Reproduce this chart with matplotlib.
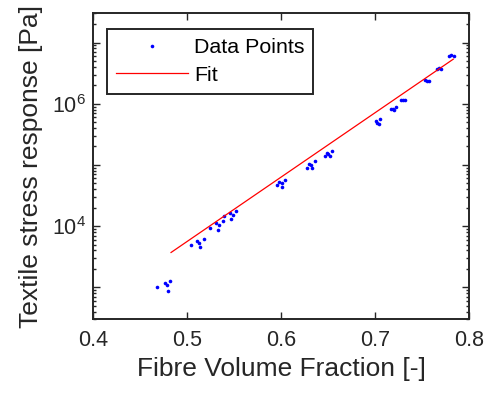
import numpy as np
import matplotlib
matplotlib.use('Agg')
import matplotlib.pyplot as plt
from matplotlib.ticker import FixedLocator, LogLocator, NullFormatter, FuncFormatter

plt.rcParams['font.family'] = ['Liberation Sans', 'DejaVu Sans']
plt.rcParams['mathtext.fontset'] = 'custom'
plt.rcParams['mathtext.rm'] = 'Liberation Sans'

# data
vf = [0.4674, 0.4763, 0.4781, 0.4791, 0.4819,
      0.5036, 0.5100, 0.5124, 0.5135, 0.5174,
      0.5245, 0.5305, 0.5330, 0.5340, 0.5383, 0.5390, 0.5457, 0.5468, 0.5483, 0.5521,
      0.5951, 0.5976, 0.6004, 0.6007, 0.6039,
      0.6270, 0.6298, 0.6327, 0.6316, 0.6359,
      0.6465, 0.6483, 0.6500, 0.6518, 0.6539,
      0.7004, 0.7021, 0.7039, 0.7053,
      0.7167, 0.7191, 0.7217, 0.7202,
      0.7270, 0.7298, 0.7319,
      0.7529, 0.7553, 0.7571,
      0.7653, 0.7678, 0.7696,
      0.7784, 0.7809, 0.7834]
stress = [995, 1172, 1086, 877, 1262,
          4875, 5741, 5395, 4581, 6180,
          9484, 11270, 8790, 10350, 12020, 14520, 16410, 13300, 15450, 17700,
          46450, 52600, 43650, 50700, 57540,
          90360, 105000, 88100, 98400, 114500,
          139600, 156300, 148900, 139600, 171000,
          520000, 483000, 459000, 569000,
          828000, 807000, 881000, 778000,
          1.13e6, 1.13e6, 1.16e6,
          2.40e6, 2.34e6, 2.34e6,
          3.73e6, 3.82e6, 3.73e6,
          6.08e6, 6.15e6, 6.08e6]
fit_vf = [0.4827, 0.7830]
fit_stress = [3707, 5.35e6]

fig = plt.figure(figsize=(4.85, 3.94), dpi=100)
ax = fig.add_axes([0.1924, 0.1896, 0.9676 - 0.1924, 0.9662 - 0.1896])

ax.semilogy(vf, stress, 'o', color=(0, 0, 1), markersize=2.6, markeredgewidth=0,
            label='Data Points')
ax.semilogy(fit_vf, fit_stress, '-', color=(1, 0, 0), linewidth=0.9, label='Fit')

ax.set_xlim(0.4, 0.8)
ax.set_ylim(300, 3e7)
ax.set_xticks([0.4, 0.5, 0.6, 0.7, 0.8])
ax.xaxis.set_major_formatter(FuncFormatter(lambda v, p: '%g' % v))
ax.yaxis.set_major_locator(FixedLocator([1e3, 1e4, 1e5, 1e6, 1e7]))
ax.yaxis.set_major_formatter(FuncFormatter(
    lambda v, p: r'$10^{%d}$' % round(np.log10(v)) if round(np.log10(v)) in (4, 6) else ''))
ax.yaxis.set_minor_locator(LogLocator(base=10, subs=np.arange(2, 10), numticks=20))
ax.yaxis.set_minor_formatter(NullFormatter())

dark = (0.15, 0.15, 0.15)
for s in ax.spines.values():
    s.set_linewidth(1.4)
    s.set_color(dark)
ax.tick_params(which='both', direction='in', top=True, right=True, colors=dark,
               labelcolor=dark, labelsize=15.5, width=1.0)
ax.tick_params(which='major', length=5)
ax.tick_params(which='minor', length=2.5)
ax.tick_params(axis='x', pad=8)
ax.tick_params(axis='y', pad=5)

ax.set_xlabel('Fibre Volume Fraction [-]', fontsize=19, color=dark, labelpad=4)
ax.set_ylabel('Textile stress response [Pa]', fontsize=19, color=dark, labelpad=7)

leg = ax.legend(loc='upper left', bbox_to_anchor=(0.0356, 0.948), fontsize=15.4,
                handlelength=3.4, handletextpad=0.25, borderpad=0.42,
                labelspacing=0.4, fancybox=False, framealpha=1,
                edgecolor=dark, borderaxespad=0)
leg.get_frame().set_linewidth(1.4)

fig.savefig('out.png', dpi=100)
